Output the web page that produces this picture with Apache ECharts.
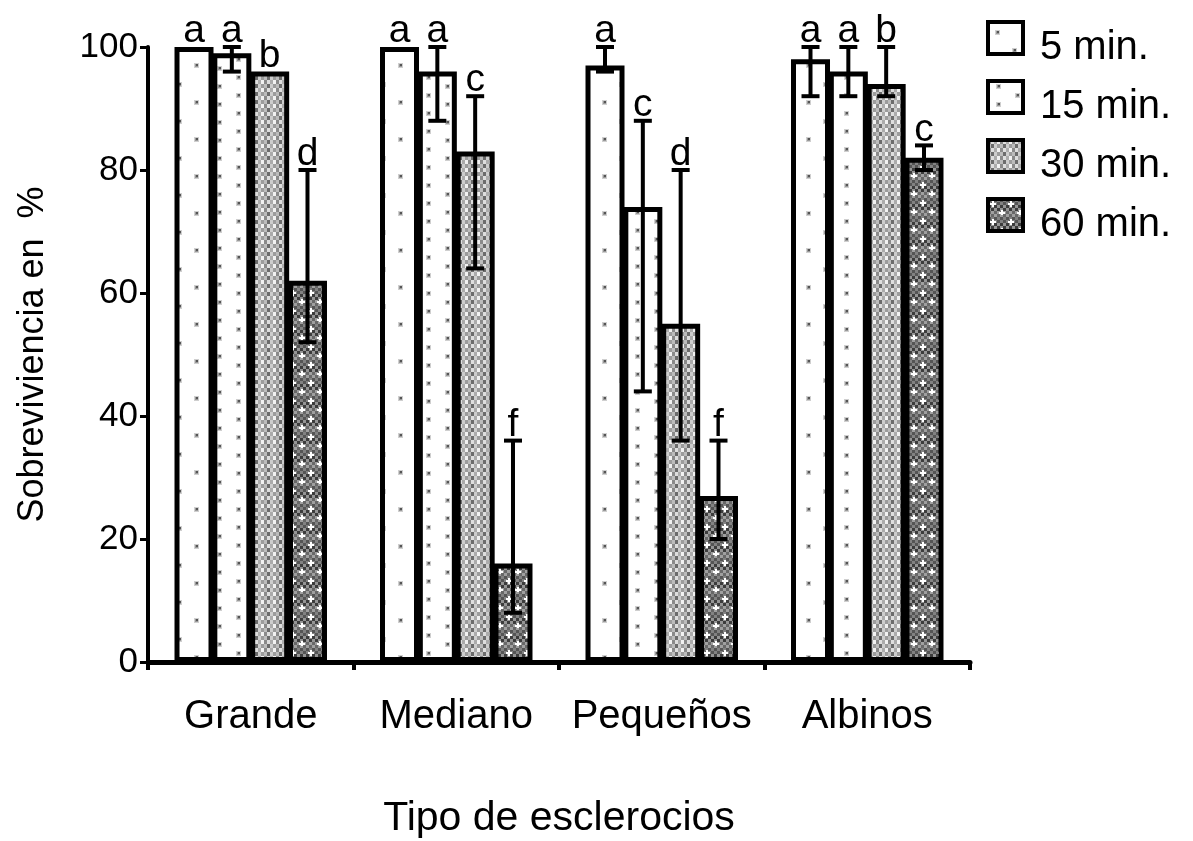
<!DOCTYPE html>
<html>
<head>
<meta charset="utf-8">
<title>Sobreviviencia de esclerocios</title>
<script src="https://cdn.jsdelivr.net/npm/echarts@6/dist/echarts.min.js"></script>
<style>
  html, body { margin: 0; padding: 0; background: #fff; }
  #chart { width: 1193px; height: 841px; }
</style>
</head>
<body>
<div id="chart"></div>
<script>
// Survival (%) of sclerotia by type and exposure time
const categories = ['Grande', 'Mediano', 'Pequeños', 'Albinos'];
const seriesNames = ['5 min.', '15 min.', '30 min.', '60 min.'];

const surv5  = [100, 100, 97, 98];
const surv15 = [99, 96, 74, 96];
const surv30 = [96, 83, 55, 94];
const surv60 = [62, 16, 27, 82];

// Error bar bounds (null = no bar drawn)
const low5   = [null, null, 96, 92];
const high5  = [null, null, 100, 100];
const low15  = [96, 88, 44, 92];
const high15 = [100, 100, 88, 100];
const low30  = [null, 64, 36, 92];
const high30 = [null, 92, 80, 100];
const low60  = [52, 8, 20, 80];
const high60 = [80, 36, 36, 84];

// Significance letters
const letters5  = ['a', 'a', 'a', 'a'];
const letters15 = ['a', 'a', 'c', 'a'];
const letters30 = ['b', 'c', 'd', 'b'];
const letters60 = ['d', 'f', 'f', 'c'];

const yTicks = [0, 20, 40, 60, 80, 100];

const FONT = "'Liberation Sans', Arial, Helvetica, sans-serif";
const BAR_W = 39;
const BAR_GAP = -0.03;
const STEP = BAR_W * (1 + BAR_GAP);

// ---- fill patterns ----
function makeCanvas(w, h, bg) {
  const c = document.createElement('canvas');
  c.width = w; c.height = h;
  const g = c.getContext('2d');
  g.fillStyle = bg; g.fillRect(0, 0, w, h);
  return [c, g];
}
function dot(g, x, y) {
  g.fillStyle = '#cfcfcf'; g.fillRect(x - 1, y - 1, 5, 5);
  g.fillStyle = '#9a9a9a'; g.fillRect(x, y, 3, 3);
  g.fillStyle = '#555'; g.fillRect(x + 1, y, 2, 2);
}
function patternSparse() {
  const [c, g] = makeCanvas(34, 37, '#fff');
  dot(g, 8, 9); dot(g, 25, 27);
  return c;
}
function patternDots() {
  const [c, g] = makeCanvas(38, 18, '#fff');
  dot(g, 9, 4); dot(g, 28, 13);
  return c;
}
function patternLight() {
  const [c, g] = makeCanvas(12, 8, '#fff');
  const cells = [
    ['#8a8a8a', '#dedede', '#ababab', '#f2f2f2'],
    ['#bcbcbc', '#6c6c6c', '#cdcdcd', '#9c9c9c']
  ];
  for (let r = 0; r < 2; r++) for (let k = 0; k < 4; k++) {
    g.fillStyle = cells[r][k]; g.fillRect(k * 3, r * 4, 3, 4);
  }
  return c;
}
function patternDark() {
  const [c, g] = makeCanvas(18, 18, '#707070');
  const shades = ['#555', '#959595', '#686868', '#828282', '#3c3c3c', '#a0a0a0'];
  for (let r = 0; r < 6; r++) for (let k = 0; k < 6; k++) {
    g.fillStyle = shades[(r * 2 + k * 3 + (r % 2)) % shades.length];
    g.fillRect(k * 3, r * 3, 3, 3);
  }
  g.fillStyle = '#fff';
  g.fillRect(4, 2, 2, 6); g.fillRect(2, 4, 6, 2);
  g.fillRect(13, 11, 2, 5); g.fillRect(11, 13, 6, 2);
  return c;
}

const fills = [patternSparse(), patternDots(), patternLight(), patternDark()]
  .map(img => ({ image: img, repeat: 'repeat' }));

const values = [surv5, surv15, surv30, surv60];
const lows = [low5, low15, low30, low60];
const highs = [high5, high15, high30, high60];
const letters = [letters5, letters15, letters30, letters60];

const barSeries = values.map((vals, i) => ({
  name: seriesNames[i],
  type: 'bar',
  data: vals,
  barWidth: BAR_W,
  barGap: (BAR_GAP * 100) + '%',
  itemStyle: { color: fills[i], borderColor: '#000', borderWidth: 5 },
  z: 2
}));

const errSeries = values.map((vals, i) => ({
  type: 'custom',
  name: 'err' + i,
  z: 5,
  silent: true,
  data: categories.map((c, k) => [k, lows[i][k], highs[i][k], vals[k]]),
  renderItem: function (params, api) {
    const k = params.dataIndex;
    const v = vals[k], lo = lows[i][k], hi = highs[i][k];
    const x = api.coord([k, 0])[0] + (i - 1.5) * STEP;
    const children = [];
    const lineStyle = { stroke: '#000', lineWidth: 4 };
    let top = v;
    if (lo !== null && hi !== null) {
      const yLo = api.coord([k, lo])[1];
      const yHi = api.coord([k, hi])[1];
      children.push({ type: 'line', shape: { x1: x, y1: yLo, x2: x, y2: yHi }, style: lineStyle });
      children.push({ type: 'line', shape: { x1: x - 9, y1: yLo, x2: x + 9, y2: yLo }, style: lineStyle });
      children.push({ type: 'line', shape: { x1: x - 9, y1: yHi, x2: x + 9, y2: yHi }, style: lineStyle });
      top = Math.max(hi, v);
    }
    const yTop = api.coord([k, top])[1];
    children.push({
      type: 'text',
      style: {
        text: letters[i][k], x: x, y: yTop + 4,
        align: 'center', verticalAlign: 'bottom',
        font: '39px ' + FONT, fill: '#000'
      }
    });
    return { type: 'group', children: children };
  }
}));

const chart = echarts.init(document.getElementById('chart'), null, { renderer: 'canvas' });
chart.setOption({
  animation: false,
  backgroundColor: '#fff',
  textStyle: { fontFamily: FONT, color: '#000' },
  grid: { left: 148, top: 47, width: 822, height: 615, containLabel: false, outerBoundsMode: 'none' },
  legend: {
    data: seriesNames,
    orient: 'vertical',
    left: 981,
    top: 3,
    icon: 'rect',
    itemWidth: 35,
    itemHeight: 32,
    itemGap: -1,
    selectedMode: false,
    itemStyle: { borderColor: '#000', borderWidth: 4 },
    formatter: function (name) { return '{t|' + name + '}'; },
    textStyle: {
      color: '#000',
      rich: { t: { fontSize: 40, fontFamily: FONT, color: '#000', lineHeight: 26, padding: [20, 0, 0, 12] } }
    }
  },
  xAxis: {
    type: 'category',
    data: categories,
    name: 'Tipo de esclerocios',
    nameLocation: 'middle',
    nameGap: 136,
    nameTextStyle: { fontSize: 41, fontFamily: FONT, color: '#000' },
    axisLine: { lineStyle: { color: '#000', width: 5 } },
    axisTick: { show: true, interval: 0, length: 8, lineStyle: { color: '#000', width: 4 } },
    axisLabel: { interval: 0, fontSize: 40, fontFamily: FONT, color: '#000', margin: 35 },
    splitLine: { show: false }
  },
  yAxis: {
    type: 'value',
    min: yTicks[0],
    max: yTicks[yTicks.length - 1],
    interval: yTicks[1] - yTicks[0],
    name: 'Sobreviviencia en  %',
    nameLocation: 'middle',
    nameGap: 97,
    nameTextStyle: { fontSize: 36, fontFamily: FONT, color: '#000' },
    axisLine: { show: true, lineStyle: { color: '#000', width: 4 } },
    axisTick: { show: true, length: 8, lineStyle: { color: '#000', width: 3 } },
    axisLabel: { fontSize: 35, fontFamily: FONT, color: '#000', margin: 10 },
    splitLine: { show: false }
  },
  series: barSeries.concat(errSeries)
});
</script>
</body>
</html>
